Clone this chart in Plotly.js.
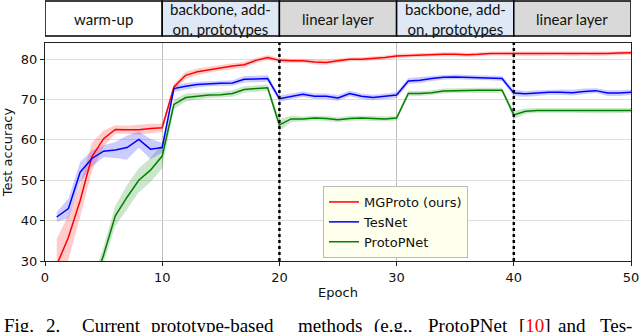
<!DOCTYPE html>
<html>
<head>
<meta charset="utf-8">
<script src="https://cdn.plot.ly/plotly-3.0.1.min.js"></script>
<style>
  html, body { margin: 0; padding: 0; background: #fff; }
  #chart { width: 640px; height: 332px; }
</style>
</head>
<body>
<div id="chart"></div>
<script>
const epochs = [1,2,3,4,5,6,7,8,9,10,11,12,13,14,15,16,17,18,19,20,21,22,23,24,25,
  26,27,28,29,30,31,32,33,34,35,36,37,38,39,40,41,42,43,44,45,46,47,48,49,50];

const mgMean = [29.0,35.9,45.0,55.8,60.3,62.6,62.5,62.5,62.8,63.0,
  73.1,76.0,76.9,77.4,77.9,78.3,78.6,79.7,80.4,79.7,
  79.6,79.6,79.3,79.2,79.6,80.0,80.0,80.2,80.4,80.8,
  80.9,81.0,81.2,81.2,81.2,81.1,81.2,81.4,81.4,81.4,
  81.3,81.3,81.3,81.4,81.3,81.4,81.3,81.4,81.5,81.6];
const mgStd = [6.5,5.5,4.0,3.5,2.0,1.0,1.0,1.2,1.2,1.0,
  0.8,0.9,0.8,0.7,0.7,0.7,0.7,0.6,0.6,0.6,
  0.5,0.5,0.6,0.6,0.5,0.5,0.5,0.5,0.5,0.5,
  0.5,0.5,0.5,0.5,0.5,0.5,0.5,0.5,0.5,0.5,
  0.5,0.5,0.5,0.5,0.6,0.5,0.5,0.5,0.5,0.5];

const tesMean = [40.9,43.0,52.0,55.4,57.2,57.5,58.1,60.1,57.7,58.1,
  72.7,73.3,73.7,73.9,74.0,74.1,75.0,75.1,75.2,70.2,
  70.8,71.3,70.8,70.8,70.4,71.5,70.8,70.5,70.8,71.1,
  74.6,74.8,75.2,75.5,75.6,75.5,75.4,75.4,75.2,71.6,
  71.4,71.6,71.8,71.8,71.7,72.0,72.2,71.6,71.6,71.8];
const tesStd = [1.2,2.5,2.5,2.0,1.5,2.0,3.0,2.0,2.5,1.2,
  0.8,0.8,0.7,0.6,0.6,0.7,0.8,0.8,0.8,0.8,
  0.7,0.7,0.7,0.7,0.7,0.7,0.7,0.7,0.7,0.7,
  0.7,0.7,0.6,0.6,0.6,0.6,0.6,0.6,0.6,0.8,
  0.7,0.7,0.6,0.7,0.7,0.7,0.6,0.7,0.7,0.7];

const protoMean = [null,null,null,23.0,31.5,41.2,45.8,50.0,52.5,56.0,
  68.8,70.5,70.8,71.1,71.2,71.5,72.5,72.7,72.9,63.7,
  65.2,65.2,65.4,65.3,65.0,65.3,65.4,65.3,65.2,65.4,
  71.5,71.5,71.7,72.1,72.2,72.3,72.3,72.3,72.3,66.2,
  67.1,67.3,67.3,67.3,67.3,67.3,67.2,67.2,67.2,67.3];
const protoStd = [null,null,null,2.0,2.0,2.5,3.0,3.0,3.0,3.0,
  1.2,1.0,0.8,0.7,0.7,0.8,0.8,0.8,0.8,1.5,
  0.8,0.6,0.6,0.6,0.6,0.6,0.6,0.6,0.6,0.6,
  0.7,0.6,0.6,0.6,0.6,0.6,0.6,0.6,0.6,1.0,
  0.7,0.6,0.6,0.6,0.6,0.6,0.6,0.6,0.6,0.6];

const seriesNames = ['MGProto (ours)', 'TesNet', 'ProtoPNet'];
const phaseLabels = ['warm-up', 'backbone, add-<br>on, prototypes', 'linear layer',
  'backbone, add-<br>on, prototypes', 'linear layer'];
const phaseStarts = [0, 10, 20, 30, 40];
const phaseEnds = [10, 20, 30, 40, 50];
const switchEpochs = [20, 40];
const captionWords = ['Fig.', '2.', 'Current', 'prototype-based', 'methods', '(e.g.,',
  'ProtoPNet', '[<span style="color:red">10</span>]', 'and', 'Tes-'];

// plot area in pixels, used to place things outside the axes
const L = 45, R = 631, T = 43, B = 261;
const px2x = p => (p - L) / (R - L);
const py2y = p => (B - p) / (B - T);

function band(mean, sd, fill) {
  const xs = [], up = [], lo = [];
  mean.forEach((m, i) => {
    if (m === null) return;
    xs.push(epochs[i]); up.push(m + sd[i]); lo.push(m - sd[i]);
  });
  return {
    x: xs.concat(xs.slice().reverse()),
    y: up.concat(lo.slice().reverse()),
    type: 'scatter', mode: 'lines', fill: 'toself',
    fillcolor: fill, line: {width: 0}, hoverinfo: 'skip', showlegend: false
  };
}
function line(mean, name, color) {
  return {x: epochs, y: mean, name: name, type: 'scatter', mode: 'lines',
    line: {color: color, width: 1.5}, connectgaps: false};
}

const traces = [
  band(protoMean, protoStd, 'rgba(0,128,0,0.2)'),
  band(tesMean, tesStd, 'rgba(0,0,255,0.2)'),
  band(mgMean, mgStd, 'rgba(255,0,0,0.2)'),
  line(mgMean, seriesNames[0], '#ff0000'),
  line(tesMean, seriesNames[1], '#0000ff'),
  line(protoMean, seriesNames[2], '#008000')
];

const shapes = [];
const annotations = [];
const headFont = {family: 'Lato, "Open Sans", sans-serif', size: 15, color: '#111'};

phaseLabels.forEach((lab, i) => {
  const isTrain = lab.startsWith('backbone');
  shapes.push({type: 'rect', xref: 'x', yref: 'paper',
    x0: phaseStarts[i], x1: phaseEnds[i], y0: py2y(36), y1: py2y(1),
    fillcolor: i === 0 ? '#ffffff' : (isTrain ? '#dfe8f5' : '#d9d9d9'),
    line: {color: '#000', width: 1.5}, layer: 'above'});
  annotations.push({xref: 'x', yref: 'paper', x: (phaseStarts[i] + phaseEnds[i]) / 2,
    y: py2y(18.5), text: lab, showarrow: false, font: headFont,
    yanchor: 'middle', borderpad: 0});
});

switchEpochs.forEach(e => {
  shapes.push({type: 'line', xref: 'x', yref: 'paper', x0: e, x1: e, y0: 0, y1: 1,
    line: {color: '#000', width: 2.5, dash: 'dot'}, layer: 'above'});
});

const captionLeft = [2, 44, 80, 149, 296, 372, 426, 517, 556, 598];
captionWords.forEach((w, i) => {
  annotations.push({xref: 'paper', yref: 'paper', x: px2x(captionLeft[i]), y: py2y(313),
    xanchor: 'left', yanchor: 'top', text: w, showarrow: false,
    font: {family: '"Liberation Serif", "Times New Roman", serif', size: 19, color: '#000'}});
});

const axisFont = {family: '"DejaVu Sans", sans-serif', size: 13, color: '#111'};

const layout = {
  width: 640, height: 332,
  margin: {l: L, r: 640 - R, t: T, b: 332 - B},
  paper_bgcolor: '#fff', plot_bgcolor: '#fff',
  showlegend: true,
  legend: {x: px2x(323), y: py2y(186), xanchor: 'left', yanchor: 'top',
    bgcolor: '#ffffee', bordercolor: '#bbbbbb', borderwidth: 1,
    font: axisFont, tracegroupgap: 0},
  xaxis: {range: [0, 50], tickvals: [0, 10, 20, 30, 40, 50],
    showgrid: true, gridcolor: '#bdbdbd', gridwidth: 1, zeroline: false,
    showline: true, linecolor: '#222', linewidth: 1, mirror: true,
    ticks: 'outside', ticklen: 4, tickcolor: '#222', tickfont: axisFont,
    title: {text: 'Epoch', font: axisFont, standoff: 4}},
  yaxis: {range: [30, 84], tickvals: [30, 40, 50, 60, 70, 80],
    showgrid: true, gridcolor: '#dedede', gridwidth: 1, zeroline: false,
    showline: true, linecolor: '#222', linewidth: 1, mirror: true,
    ticks: 'outside', ticklen: 4, tickcolor: '#222', tickfont: axisFont,
    title: {text: 'Test accuracy', font: axisFont, standoff: 6}},
  shapes: shapes,
  annotations: annotations
};

Plotly.newPlot('chart', traces, layout, {displayModeBar: false, staticPlot: true});
</script>
</body>
</html>
